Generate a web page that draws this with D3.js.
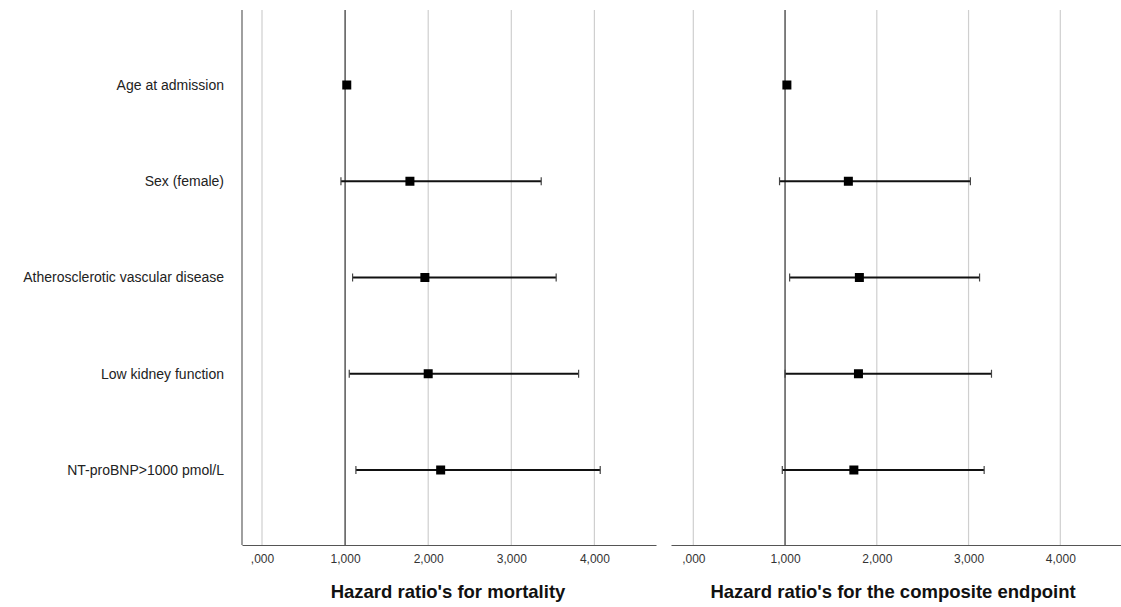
<!DOCTYPE html>
<html>
<head>
<meta charset="utf-8">
<script src="https://cdn.jsdelivr.net/npm/d3@7"></script>
<style>
  body { margin: 0; background: #fff; }
  svg { display: block; font-family: "Liberation Sans", Arial, sans-serif; }
</style>
</head>
<body>
<svg id="chart" width="1121" height="607"></svg>
<script>
// row labels, top to bottom
var variables = ["Age at admission", "Sex (female)", "Atherosclerotic vascular disease", "Low kidney function", "NT-proBNP>1000 pmol/L"];

// mortality model
var mortHR = [1.02, 1.78, 1.96, 2.00, 2.15];
var mortLo = [null, 0.95, 1.09, 1.05, 1.13];
var mortHi = [null, 3.36, 3.54, 3.81, 4.07];

// composite endpoint model
var compHR = [1.02, 1.69, 1.81, 1.80, 1.75];
var compLo = [null, 0.94, 1.05, 1.00, 0.97];
var compHi = [null, 3.02, 3.12, 3.25, 3.17];

var tickValues = [0, 1, 2, 3, 4];
var tickLabels = [",000", "1,000", "2,000", "3,000", "4,000"];

var svg = d3.select("#chart");

var y = d3.scalePoint()
  .domain(variables)
  .range([85, 470]);

// row labels
svg.selectAll("text.rowlab")
  .data(variables)
  .enter()
  .append("text")
  .attr("class", "rowlab")
  .attr("x", 224)
  .attr("y", d => y(d))
  .attr("dy", "0.35em")
  .attr("text-anchor", "end")
  .attr("font-size", 14)
  .attr("fill", "#222")
  .text(d => d);

function drawPanel(left, right, zeroX, unit, hr, lo, hi, title, titleX, showYAxis) {
  var x = d3.scaleLinear()
    .domain([(left - zeroX) / unit, (right - zeroX) / unit])
    .range([left, right]);

  var g = svg.append("g");
  var top = 10, bottom = 545;

  // grid lines
  g.selectAll("line.grid")
    .data(tickValues)
    .enter()
    .append("line")
    .attr("x1", d => x(d)).attr("x2", d => x(d))
    .attr("y1", top).attr("y2", bottom)
    .attr("stroke", d => d === 1 ? "#4a4a4a" : "#cfcfcf")
    .attr("stroke-width", d => d === 1 ? 1.4 : 1.2);

  if (showYAxis) {
    g.append("line")
      .attr("x1", left).attr("x2", left)
      .attr("y1", top).attr("y2", bottom)
      .attr("stroke", "#777").attr("stroke-width", 1.4);
  }

  // x axis
  var axis = d3.axisBottom(x)
    .tickValues(tickValues)
    .tickSize(0)
    .tickPadding(9)
    .tickFormat((d, i) => tickLabels[i]);
  var ax = g.append("g")
    .attr("transform", "translate(0," + bottom + ")")
    .call(axis);
  ax.select(".domain").attr("stroke", "#555").attr("stroke-width", 1.2);
  ax.selectAll("text")
    .attr("font-size", 12)
    .attr("fill", "#333")
    .attr("font-family", "Liberation Sans, Arial, sans-serif");

  var rows = variables.map((v, i) => ({ v: v, hr: hr[i], lo: lo[i], hi: hi[i] }));
  var ci = rows.filter(d => d.lo != null);

  // CI lines
  g.selectAll("line.ci")
    .data(ci)
    .enter()
    .append("line")
    .attr("x1", d => x(d.lo)).attr("x2", d => x(d.hi))
    .attr("y1", d => y(d.v)).attr("y2", d => y(d.v))
    .attr("stroke", "#111").attr("stroke-width", 2.2);

  // caps
  ["lo", "hi"].forEach(function (k) {
    g.selectAll("line.cap" + k)
      .data(ci)
      .enter()
      .append("line")
      .attr("x1", d => x(d[k])).attr("x2", d => x(d[k]))
      .attr("y1", d => y(d.v) - 4).attr("y2", d => y(d.v) + 4)
      .attr("stroke", "#444").attr("stroke-width", 1.2);
  });

  // points
  g.selectAll("rect.pt")
    .data(rows)
    .enter()
    .append("rect")
    .attr("x", d => x(d.hr) - 4.5)
    .attr("y", d => y(d.v) - 4.5)
    .attr("width", 9).attr("height", 9)
    .attr("fill", "#000");

  g.append("text")
    .attr("x", titleX)
    .attr("y", 598)
    .attr("text-anchor", "middle")
    .attr("font-size", 18.5)
    .attr("font-weight", "bold")
    .attr("fill", "#111")
    .text(title);
}

drawPanel(242, 656, 262, 83.1, mortHR, mortLo, mortHi, "Hazard ratio's for mortality", 448, true);
drawPanel(671, 1121, 693.3, 91.75, compHR, compLo, compHi, "Hazard ratio's for the composite endpoint", 893, false);
</script>
</body>
</html>
